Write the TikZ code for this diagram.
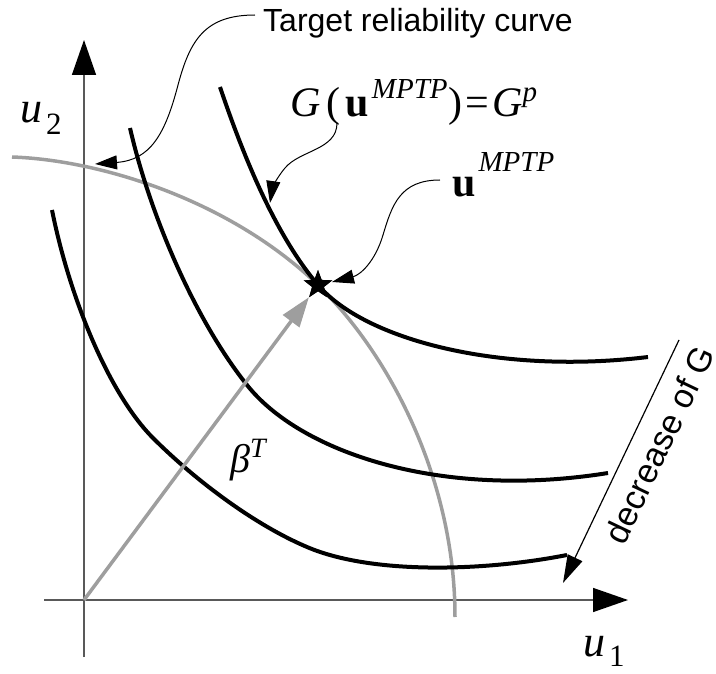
\documentclass[tikz,border=0pt]{standalone}
\usepackage{fontspec}
\setmainfont{Liberation Serif}
\newfontfamily\labelsans{Liberation Sans}
\usetikzlibrary{arrows.meta,shapes.geometric}

\begin{document}
\begin{tikzpicture}[x=1pt, y=-1pt,
    axis/.style={line width=1.5pt, draw=black!65,
                 -{Triangle[length=35pt, width=24pt, color=black]}},
    level/.style={line width=4pt, black},
    target/.style={line width=3.5pt, black!38},
    lead/.style={line width=1pt, -{Triangle[length=22pt, width=14pt]}},
    plain/.style={font=\labelsans\fontsize{32}{32}\selectfont, inner sep=0pt},
    sym/.style={font=\fontsize{42}{42}\selectfont, inner sep=0pt},
    dpoint/.style={star, star points=5, star point ratio=2.4, fill=black,
                   minimum size=30pt, inner sep=0pt},
]
\useasboundingbox (0,0) rectangle (716,674);

% Axes
\coordinate (O) at (84,600);
\coordinate (xend) at (628,600);
\coordinate (yend) at (84,40);
\draw[axis] (44,600) -- (xend);
\draw[axis] (84,657) -- (yend);

% Target reliability curve (grey)
\draw[target] (12,157) .. controls (100,160) and (230,200) .. (318,285)
      .. controls (390,355) and (455,480) .. (455,617);

% Levels of G
\draw[level] (220,87) .. controls (248,170) and (280,240.5) .. (318,285)
      .. controls (365,340) and (500,375) .. (648,357);
\draw[level] (130,128) .. controls (150,215) and (195,320) .. (247,385)
      .. controls (300,452) and (440,500) .. (608,473);
\draw[level] (52,210) .. controls (70,300) and (110,395) .. (153,438)
      .. controls (196,481) and (255,525) .. (307,547)
      .. controls (370,574) and (480,572) .. (567,555);

% Design point and beta vector
\node[dpoint] (mptp) at (318,285) {};
\draw[line width=3.5pt, black!38,
      -{Triangle[length=30pt, width=20pt]}] (O) -- (mptp);
\node[dpoint] at (mptp) {};

% Labels
\node[plain, anchor=base west] (tlabel) at (263,32) {Target reliability curve};
\node[sym, anchor=base west] (glabel) at (290,117)
     {\textit{G}\kern6pt(\kern5pt\textbf{u}\kern3pt\raisebox{18pt}{\fontsize{29}{29}\selectfont\itshape MPTP}\kern1pt)\kern3pt=\kern3pt\textit{G}\raisebox{15pt}{\fontsize{29}{29}\selectfont\itshape p}};
\node[sym, anchor=base west] (ulabel) at (452,197)
     {\textbf{u}\kern3pt\raisebox{25pt}{\fontsize{29}{29}\selectfont\itshape MPTP}};
\node[sym, font=\fontsize{44}{44}\selectfont, anchor=base west] (u2) at (20,123)
     {\textit{u}\kern4pt\raisebox{-12pt}{\fontsize{31}{31}\selectfont 2}};
\node[sym, font=\fontsize{44}{44}\selectfont, anchor=base west] (u1) at (583,656)
     {\textit{u}\kern4pt\raisebox{-10pt}{\fontsize{31}{31}\selectfont 1}};
\node[sym, font=\fontsize{40}{40}\selectfont, anchor=base west] (beta) at (230,472)
     {\textit{β}\raisebox{15pt}{\fontsize{28}{28}\selectfont\itshape T}};
\node[plain, font=\labelsans\fontsize{34}{34}\selectfont, rotate=64.5]
     (dlabel) at (659,445) {decrease of G};

% Leader lines
\coordinate (tstart) at (255,15);
\coordinate (ttip) at (95,164);
\coordinate (gstart) at (337,123);
\coordinate (gtip) at (270,203);
\coordinate (ustart) at (440,180);
\coordinate (utip) at (332,282);
\draw[lead] (tstart) .. controls (205,15) and (190,40) .. (178,85)
      .. controls (165,135) and (150,160) .. (ttip);
\draw[lead] (gstart) .. controls (337,150) and (300,150) .. (285,168)
      .. controls (275,180) and (272,190) .. (gtip);
\draw[lead] (ustart) .. controls (400,180) and (392,205) .. (383,235)
      .. controls (375,262) and (360,275) .. (utip);

% Decrease of G
\coordinate (dstart) at (679,340);
\coordinate (dtip) at (563,583);
\draw[line width=1.2pt, -{Triangle[length=28pt, width=16pt]}] (dstart) -- (dtip);

\end{tikzpicture}
\end{document}
